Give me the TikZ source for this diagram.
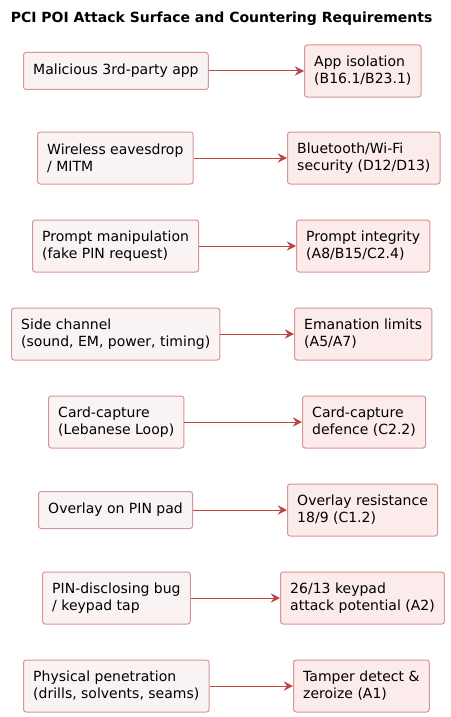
\documentclass[tikz,border=0pt]{standalone}
\usepackage{fontspec}
\setmainfont{DejaVu Sans}
\usetikzlibrary{arrows.meta}
\definecolor{lfill}{HTML}{FAF3F3}
\definecolor{rfill}{HTML}{FCEBEB}
\definecolor{bord}{HTML}{D99494}
\definecolor{arr}{HTML}{B94545}
\begin{document}
\begin{tikzpicture}[x=0.75pt,y=-0.75pt,
  box/.style={draw=bord,line width=0.75pt,rounded corners=2pt,anchor=west,align=left,
    inner xsep=7.3pt,inner ysep=0pt,font=\fontsize{10.5pt}{12.75pt}\selectfont,text=black},
  lbox/.style={box,fill=lfill},
  rbox/.style={box,fill=rfill,minimum height=39pt},
  one/.style={minimum height=27.75pt},
  two/.style={minimum height=39pt},
  conn/.style={draw=arr,line width=0.75pt,-{Stealth[length=7pt,width=7pt,inset=2.5pt]}}]
\useasboundingbox (0,0) rectangle (450,717);
\node[anchor=base west,inner sep=0pt,font=\fontsize{10.5pt}{12pt}\selectfont\bfseries] (title) at (10.5,23) {PCI POI Attack Surface and Countering Requirements};
\node[lbox,one] (l1) at (23,71) {Malicious 3rd-party app};
\node[rbox] (r1) at (304,71) {App isolation\\(B16.1/B23.1)};
\node[lbox,two] (l2) at (37,158) {Wireless eavesdrop\\/ MITM};
\node[rbox] (r2) at (287,158) {Bluetooth/Wi-Fi\\security (D12/D13)};
\node[lbox,two] (l3) at (32,246) {Prompt manipulation\\(fake PIN request)};
\node[rbox] (r3) at (296,246) {Prompt integrity\\(A8/B15/C2.4)};
\node[lbox,two] (l4) at (11,334) {Side channel\\(sound, EM, power, timing)};
\node[rbox] (r4) at (294,334) {Emanation limits\\(A5/A7)};
\node[lbox,two] (l5) at (48,422) {Card-capture\\(Lebanese Loop)};
\node[rbox] (r5) at (302,422) {Card-capture\\defence (C2.2)};
\node[lbox,one] (l6) at (38,510) {Overlay on PIN pad};
\node[rbox] (r6) at (287,510) {Overlay resistance\\18/9 (C1.2)};
\node[lbox,two] (l7) at (42,598) {PIN-disclosing bug\\/ keypad tap};
\node[rbox] (r7) at (280,598) {26/13 keypad\\attack potential (A2)};
\node[lbox,two] (l8) at (23,686) {Physical penetration\\(drills, solvents, seams)};
\node[rbox] (r8) at (293,686) {Tamper detect \&\\zeroize (A1)};
\foreach \i in {1,...,8} {\draw[conn] (l\i) -- (r\i);}
\end{tikzpicture}
\end{document}
